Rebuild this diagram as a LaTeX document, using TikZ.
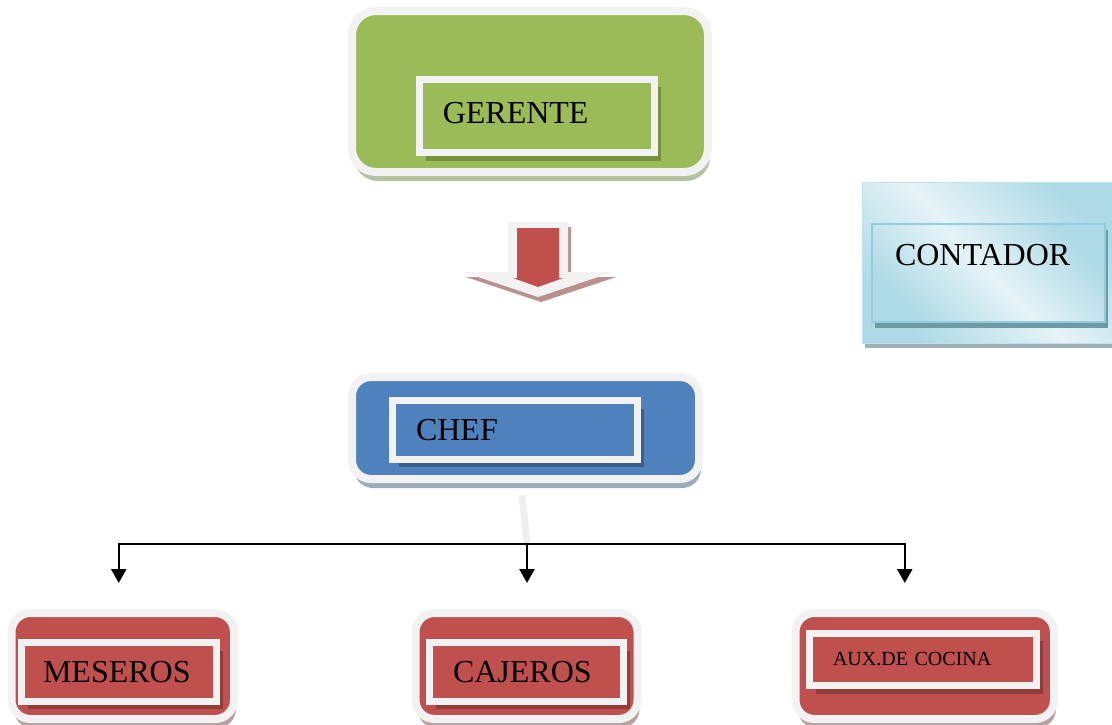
\documentclass[tikz,border=0pt]{standalone}
\usepackage{fontspec}
\setmainfont{Liberation Serif}
\usetikzlibrary{shadows,arrows.meta}

\definecolor{frame}{HTML}{F2F2F2}
\definecolor{gerFill}{HTML}{9BBB59}
\definecolor{gerDark}{HTML}{76923C}
\definecolor{gerShade}{HTML}{B3C29F}
\definecolor{chefFill}{HTML}{4F81BD}
\definecolor{chefDark}{HTML}{3A5F8C}
\definecolor{chefShade}{HTML}{9AAAC0}
\definecolor{staffFill}{HTML}{C0504D}
\definecolor{staffDark}{HTML}{943C3A}
\definecolor{staffShade}{HTML}{BBA09F}
\definecolor{contLight}{HTML}{E6F3F7}
\definecolor{contDark}{HTML}{ADDAE6}
\definecolor{contLine}{HTML}{93CDDD}
\definecolor{contDarkShade}{HTML}{6E9AA6}
\definecolor{contShade}{HTML}{9EB0B6}
\definecolor{arrShade}{HTML}{B8918F}
\definecolor{faint}{HTML}{EFEFEF}

\begin{document}
\begin{tikzpicture}[x=0.5pt,y=-0.5pt,
  outerbox/.style 2 args={draw=frame,line width=4pt,fill=#1,inner sep=0pt,outer sep=0pt,
    rounded corners=9.5pt,drop shadow={shadow xshift=1pt,shadow yshift=-4.5pt,fill=#2,opacity=1}},
  innerbox/.style 2 args={draw=frame,line width=3.5pt,fill=#1,inner xsep=11.75pt,outer sep=0pt,
    align=left,font=\fontsize{16}{19}\selectfont,
    drop shadow={shadow xshift=3.25pt,shadow yshift=-4pt,fill=#2,opacity=1}},
  contshade/.style={top color=contDark,bottom color=contDark,middle color=contLight,shading angle=-45},
  conn/.style={draw,line width=1.25pt,-{Triangle[width=7.5pt,length=7pt]},shorten >=15pt}]
\useasboundingbox (0,0) rectangle (1112,724);

\node[outerbox={gerFill}{gerShade},rounded corners=12pt,minimum width=178pt,minimum height=80.5pt] (gerente-box) at (530,91.5) {};
\node[innerbox={gerFill}{gerDark},text width=94.25pt,minimum height=36.75pt,text depth=3pt] (gerente) at (537,116) {GERENTE};

\fill[arrShade] (511,227) -- (571,227) -- (571,277) -- (616,277) -- (541,302) -- (466,277) -- (511,277) -- cycle;
\fill[frame] (508,222) -- (568,222) -- (568,272) -- (613,272) -- (538,297) -- (463,272) -- (508,272) -- cycle;
\fill[staffFill] (517,228) -- (559,228) -- (559,278) -- (563,278) -- (538,287) -- (513,278) -- (517,278) -- cycle;

\node[contshade,draw=contLine!60,line width=0.5pt,minimum width=125pt,minimum height=80.5pt,inner sep=0pt,
  drop shadow={shadow xshift=1.5pt,shadow yshift=-2.5pt,fill=contShade,opacity=1}] (contador-box) at (987,262.5) {};
\node[contshade,draw=contLine,line width=1pt,minimum height=49pt,text width=93.5pt,inner xsep=11.5pt,text depth=18pt,
  align=left,font=\fontsize{16}{19}\selectfont,
  drop shadow={shadow xshift=1.5pt,shadow yshift=-3pt,fill=contDarkShade,opacity=1}] (contador) at (988.5,273) {CONTADOR};

\node[outerbox={chefFill}{chefShade},minimum width=173.5pt,minimum height=51pt] (chef-box) at (525.5,428) {};
\node[innerbox={chefFill}{chefDark},text width=99pt,minimum height=29.25pt] (chef) at (515,429.75) {CHEF};

\node[outerbox={staffFill}{staffShade},minimum width=111.25pt,minimum height=53pt] (meseros-box) at (122.75,666) {};
\node[innerbox={staffFill}{staffDark},inner xsep=10.75pt,text width=76pt,minimum height=29.25pt,text depth=-2pt] (meseros) at (119,671.75) {MESEROS};

\node[outerbox={staffFill}{staffShade},minimum width=111pt,minimum height=53pt] (cajeros-box) at (526.5,666) {};
\node[innerbox={staffFill}{staffDark},inner xsep=12pt,text width=73pt,minimum height=29.25pt,text depth=-2pt] (cajeros) at (526,671.75) {CAJEROS};

\node[outerbox={staffFill}{staffShade},minimum width=129.25pt,minimum height=53pt] (aux-box) at (924.75,666) {};
\node[innerbox={staffFill}{staffDark},text width=90pt,minimum height=26.25pt,font=\fontsize{10}{12}\selectfont] (aux) at (923,659.25) {AUX.DE COCINA};

\coordinate (bus) at (527,544);
\draw[faint,line width=3.5pt] ([xshift=-1.75pt,yshift=-8pt]chef-box.south) -- (bus);
\draw[conn] (bus) -| ([xshift=-2pt]meseros-box.north);
\draw[conn] (bus) -- (bus |- cajeros-box.north);
\draw[conn] (bus) -| ([xshift=-10pt]aux-box.north);
\end{tikzpicture}
\end{document}
